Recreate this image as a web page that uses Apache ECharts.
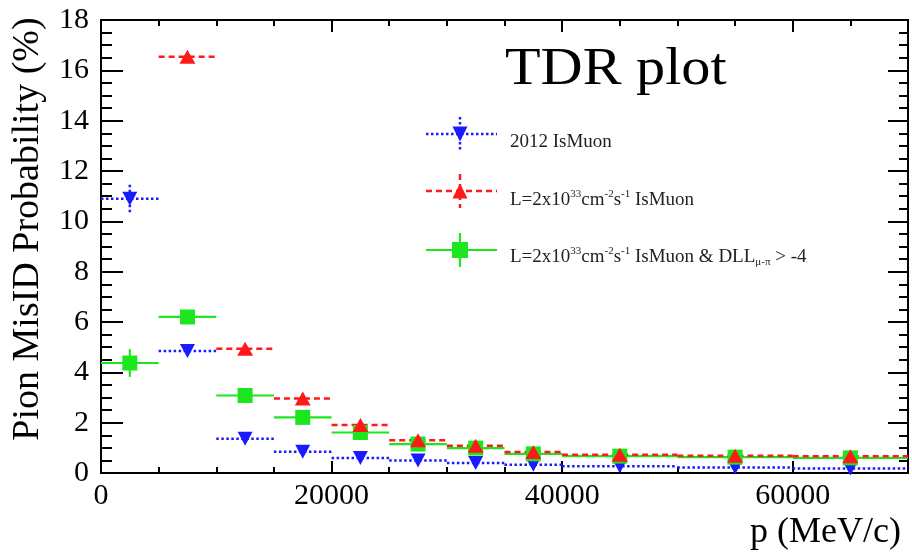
<!DOCTYPE html>
<html>
<head>
<meta charset="utf-8">
<script src="https://cdn.jsdelivr.net/npm/echarts@6/dist/echarts.min.js"></script>
<style>
  html, body { margin: 0; padding: 0; background: #fff; }
  #chart { width: 912px; height: 556px; }
</style>
</head>
<body>
<div id="chart"></div>
<script>
// Momentum bin edges, p in MeV/c
const binEdges = [0, 5000, 10000, 15000, 20000, 25000, 30000, 35000, 40000, 50000, 60000, 70000];

// Pion misID probability (%) per bin; null = no entry in that bin
const isMuon2012      = [10.9, 4.85, 1.36, 0.84, 0.6, 0.5, 0.4, 0.33, 0.27, 0.22, 0.18];
const isMuon2012Err   = [0.55, 0.2, 0.1, 0.08, 0.06, 0.05, 0.04, 0.04, 0.03, 0.03, 0.03];
const isMuonLumi      = [null, 16.54, 4.94, 2.96, 1.91, 1.3, 1.08, 0.83, 0.73, 0.69, 0.67];
const isMuonLumiErr   = [null, 0.15, 0.12, 0.1, 0.08, 0.06, 0.05, 0.05, 0.04, 0.04, 0.04];
const isMuonDllLumi   = [4.37, 6.2, 3.08, 2.21, 1.61, 1.15, 0.99, 0.76, 0.67, 0.63, 0.6];
const isMuonDllLumiErr= [0.55, 0.2, 0.12, 0.1, 0.08, 0.06, 0.05, 0.05, 0.04, 0.04, 0.04];

// Axis ranges and tick steps
const xRange = [0, 70000];
const xMajorStep = 20000;
const xMinorStep = 5000;
const yRange = [0, 18];
const yMajorStep = 2;

const SERIF = '"Liberation Serif", "Times New Roman", serif';
const BLUE = '#1a1aff', RED = '#ff1a1a', GREEN = '#1ee61e';

// rows: [binLow, binHigh, value, error]
function binRows(values, errors) {
  const rows = [];
  values.forEach((v, i) => {
    if (v === null) return;
    rows.push([binEdges[i], binEdges[i + 1], v, errors[i]]);
  });
  return rows;
}
function centerPoints(values) {
  const pts = [];
  values.forEach((v, i) => {
    if (v === null) return;
    pts.push([(binEdges[i] + binEdges[i + 1]) / 2, v]);
  });
  return pts;
}

// horizontal bin-width bar plus vertical error bar
function barRenderer(color, width, dash) {
  return function (params, api) {
    const lo = api.value(0), hi = api.value(1), y = api.value(2), e = api.value(3);
    const c = (lo + hi) / 2;
    const a = api.coord([lo, y]), b = api.coord([hi, y]);
    const t = api.coord([c, y + e]), u = api.coord([c, y - e]);
    const st = { stroke: color, lineWidth: width, lineDash: dash, fill: null };
    return {
      type: 'group',
      children: [
        { type: 'line', shape: { x1: a[0], y1: a[1], x2: b[0], y2: b[1] }, style: st },
        { type: 'line', shape: { x1: t[0], y1: t[1], x2: u[0], y2: u[1] }, style: st }
      ]
    };
  };
}

function barSeries(name, values, errors, color, width, dash) {
  return {
    name: name,
    type: 'custom',
    xAxisIndex: 0, yAxisIndex: 0,
    dimensions: ['lo', 'hi', 'y', 'err'],
    encode: { x: [0, 1], y: 2 },
    renderItem: barRenderer(color, width, dash),
    data: binRows(values, errors),
    silent: true,
    animation: false
  };
}
function markerSeries(name, values, color, symbol, size, rotate) {
  return {
    name: name,
    type: 'scatter',
    xAxisIndex: 0, yAxisIndex: 0,
    symbol: symbol,
    symbolSize: size,
    symbolRotate: rotate || 0,
    itemStyle: { color: color, opacity: 1 },
    data: centerPoints(values),
    silent: true,
    animation: false
  };
}

const axisLineStyle = { color: '#000', width: 2 };

function xAxisDef(position, step, tickLen, showLabels) {
  return {
    type: 'value', position: position,
    min: xRange[0], max: xRange[1], interval: step,
    axisLine: { show: true, onZero: false, lineStyle: axisLineStyle },
    axisTick: { show: true, inside: true, length: tickLen, lineStyle: { color: '#000', width: 2 } },
    axisLabel: {
      show: showLabels, showMaxLabel: false, margin: 8,
      formatter: v => String(v),
      fontFamily: SERIF, fontSize: 30, color: '#000'
    },
    splitLine: { show: false }
  };
}
function yAxisDef(position, tickLen, minorLen, showLabels) {
  return {
    type: 'value', position: position,
    min: yRange[0], max: yRange[1], interval: yMajorStep,
    axisLine: { show: true, onZero: false, lineStyle: axisLineStyle },
    axisTick: { show: true, inside: true, length: tickLen, lineStyle: { color: '#000', width: 2 } },
    minorTick: { show: true, splitNumber: 4, length: minorLen, lineStyle: { color: '#000', width: 2 } },
    axisLabel: { show: showLabels, margin: 12, fontFamily: SERIF, fontSize: 30, color: '#000' },
    splitLine: { show: false },
    minorSplitLine: { show: false }
  };
}

// legend sample: bin bar, error bar and marker
function legendSample(cy, color, dash, width, markerShape) {
  return [
    { type: 'line', shape: { x1: 426, y1: cy, x2: 497, y2: cy },
      style: { stroke: color, lineWidth: width, lineDash: dash } },
    { type: 'line', shape: { x1: 460, y1: cy - 17, x2: 460, y2: cy + 17 },
      style: { stroke: color, lineWidth: width, lineDash: dash } },
    markerShape
  ];
}
function tri(cx, cy, w, h, down) {
  return down
    ? [[cx - w / 2, cy - h / 2], [cx + w / 2, cy - h / 2], [cx, cy + h / 2]]
    : [[cx - w / 2, cy + h / 2], [cx + w / 2, cy + h / 2], [cx, cy - h / 2]];
}

const legendRich = {
  n:   { fontFamily: SERIF, fontSize: 19, lineHeight: 22, fill: '#222' },
  sup: { fontFamily: SERIF, fontSize: 11, lineHeight: 11, fill: '#222', verticalAlign: 'top' },
  sub: { fontFamily: SERIF, fontSize: 11, lineHeight: 11, fill: '#222', verticalAlign: 'bottom' }
};
const lumiText = '{n|L=2x10}{sup|33}{n|cm}{sup|-2}{n|s}{sup|-1}{n| IsMuon}';

function legendLabel(y, text) {
  return {
    type: 'text', x: 510, y: y, silent: true,
    style: { text: text, rich: legendRich, fontFamily: SERIF, fontSize: 19,
             fill: '#222', textAlign: 'left', textVerticalAlign: 'middle' }
  };
}

const option = {
  animation: false,
  backgroundColor: '#fff',
  grid: { left: 101, right: 4, top: 20, bottom: 83, containLabel: false },
  xAxis: [
    xAxisDef('bottom', xMajorStep, 12, true),
    xAxisDef('bottom', xMinorStep, 6, false),
    xAxisDef('top', xMajorStep, 12, false),
    xAxisDef('top', xMinorStep, 6, false)
  ],
  yAxis: [
    yAxisDef('left', 22, 11, true),
    yAxisDef('right', 20, 9, false)
  ],
  series: [
    barSeries('2012 IsMuon bins', isMuon2012, isMuon2012Err, BLUE, 2.5, [2.5, 2.5]),
    markerSeries('2012 IsMuon', isMuon2012, BLUE, 'triangle', [15, 14], 180),
    barSeries('IsMuon & DLL bins', isMuonDllLumi, isMuonDllLumiErr, GREEN, 2.2, null),
    markerSeries('IsMuon & DLL', isMuonDllLumi, GREEN, 'rect', [15, 15]),
    barSeries('IsMuon bins', isMuonLumi, isMuonLumiErr, RED, 2.5, [6, 4]),
    markerSeries('IsMuon', isMuonLumi, RED, 'triangle', [16, 14])
  ],
  graphic: [
    {
      type: 'text', x: 505, y: 70, scaleX: 1.12, silent: true,
      style: { text: 'TDR plot', fontFamily: SERIF, fontSize: 52, fill: '#000',
               textAlign: 'left', textVerticalAlign: 'middle' }
    },
    {
      type: 'text', x: 28, y: 229, rotation: Math.PI / 2, silent: true,
      style: { text: 'Pion MisID Probability (%)', fontFamily: SERIF, fontSize: 38, fill: '#000',
               textAlign: 'center', textVerticalAlign: 'middle' }
    },
    {
      type: 'text', x: 901, y: 533, silent: true,
      style: { text: 'p (MeV/c)', fontFamily: SERIF, fontSize: 36, fill: '#000',
               textAlign: 'right', textVerticalAlign: 'middle' }
    },
    {
      type: 'group', silent: true,
      children: [].concat(
        legendSample(134, BLUE, [2.5, 2.5], 2.5,
          { type: 'polygon', shape: { points: tri(460, 134, 15, 15, true) }, style: { fill: BLUE } }),
        legendSample(191, RED, [6, 4], 2.5,
          { type: 'polygon', shape: { points: tri(460, 191, 15, 15, false) }, style: { fill: RED } }),
        legendSample(250, GREEN, null, 2.2,
          { type: 'rect', shape: { x: 452, y: 242, width: 16, height: 16 }, style: { fill: GREEN } }),
        [
          legendLabel(142, '{n|2012 IsMuon}'),
          legendLabel(200, lumiText),
          legendLabel(257, lumiText + '{n| & DLL}{sub|μ-π}{n| > -4}')
        ]
      )
    }
  ]
};

const chart = echarts.init(document.getElementById('chart'), null, { renderer: 'canvas' });
chart.setOption(option);
</script>
</body>
</html>
